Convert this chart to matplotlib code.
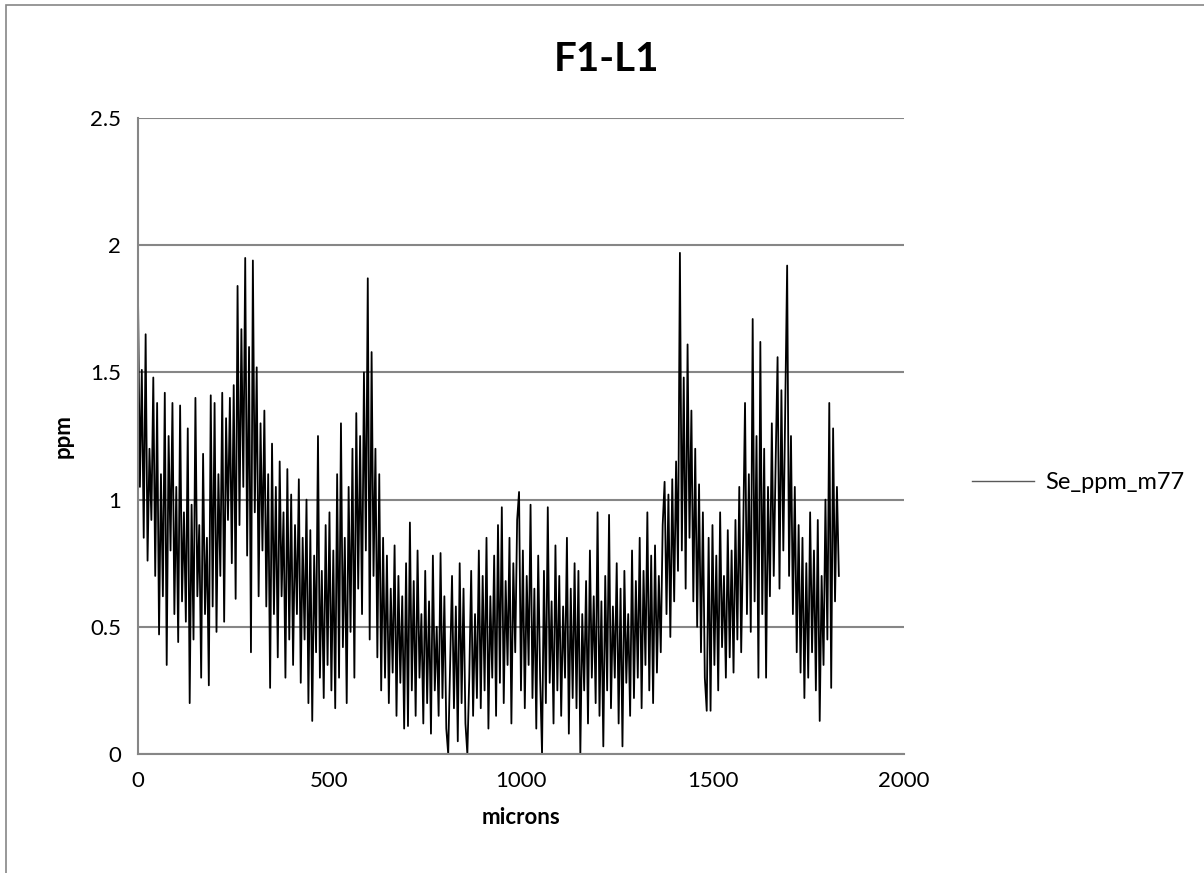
import matplotlib
matplotlib.use("Agg")
import matplotlib.pyplot as plt
from matplotlib.patches import Rectangle
import numpy as np

# Se line scan F1-L1, values every 5 microns
title = "F1-L1"
series_name = "Se_ppm_m77"
x_step = 5
se_ppm = [
    # 0 - 245
    1.81, 1.05, 1.51, 0.85, 1.65, 0.76, 1.20, 0.92, 1.48, 0.70,
    1.38, 0.47, 1.10, 0.62, 1.42, 0.35, 1.25, 0.80, 1.38, 0.55,
    1.05, 0.44, 1.37, 0.60, 0.95, 0.52, 1.28, 0.20, 0.98, 0.45,
    1.40, 0.62, 0.90, 0.30, 1.18, 0.55, 0.85, 0.27, 1.41, 0.58,
    1.38, 0.48, 1.10, 0.70, 1.42, 0.52, 1.32, 0.92, 1.40, 0.75,
    # 250 - 495
    1.45, 0.61, 1.84, 0.90, 1.67, 1.05, 1.95, 0.78, 1.60, 0.40,
    1.94, 0.95, 1.52, 0.62, 1.30, 0.80, 1.35, 0.58, 1.10, 0.26,
    1.22, 0.55, 1.05, 0.38, 1.15, 0.62, 0.95, 0.30, 1.12, 0.45,
    1.02, 0.35, 0.90, 0.55, 1.08, 0.28, 0.85, 0.45, 1.00, 0.20,
    0.88, 0.13, 0.78, 0.40, 1.25, 0.30, 0.72, 0.22, 0.90, 0.35,
    # 500 - 745
    0.95, 0.25, 0.80, 0.18, 1.10, 0.30, 1.30, 0.42, 0.85, 0.20,
    1.05, 0.48, 1.20, 0.30, 1.34, 0.65, 1.25, 0.55, 1.50, 0.80,
    1.87, 0.45, 1.58, 0.70, 1.20, 0.38, 1.10, 0.25, 0.85, 0.30,
    0.78, 0.20, 0.65, 0.32, 0.82, 0.15, 0.70, 0.28, 0.62, 0.10,
    0.75, 0.11, 0.91, 0.25, 0.68, 0.15, 0.80, 0.30, 0.55, 0.12,
    # 750 - 995
    0.72, 0.20, 0.60, 0.08, 0.78, 0.25, 0.50, 0.15, 0.79, 0.22,
    0.62, 0.10, 0.00, 0.35, 0.70, 0.18, 0.58, 0.05, 0.75, 0.20,
    0.65, 0.12, 0.00, 0.30, 0.72, 0.15, 0.55, 0.22, 0.80, 0.18,
    0.70, 0.25, 0.85, 0.10, 0.62, 0.30, 0.78, 0.15, 0.90, 0.28,
    0.97, 0.20, 0.68, 0.35, 0.85, 0.12, 0.75, 0.40, 0.92, 1.03,
    # 1000 - 1245
    0.25, 0.80, 0.18, 0.70, 0.35, 0.98, 0.22, 0.65, 0.10, 0.78,
    0.30, 0.00, 0.72, 0.20, 0.97, 0.28, 0.60, 0.12, 0.82, 0.25,
    0.70, 0.15, 0.58, 0.30, 0.85, 0.08, 0.65, 0.22, 0.75, 0.18,
    0.72, 0.00, 0.55, 0.25, 0.68, 0.12, 0.80, 0.30, 0.62, 0.20,
    0.95, 0.15, 0.60, 0.03, 0.70, 0.25, 0.94, 0.18, 0.58, 0.30,
    # 1250 - 1495
    0.75, 0.12, 0.65, 0.03, 0.72, 0.28, 0.55, 0.15, 0.80, 0.22,
    0.68, 0.30, 0.85, 0.18, 0.72, 0.35, 0.95, 0.25, 0.78, 0.20,
    0.82, 0.32, 0.70, 0.40, 0.90, 1.07, 0.55, 1.02, 0.46, 1.08,
    0.60, 1.15, 0.72, 1.97, 0.80, 1.48, 0.65, 1.61, 0.85, 1.35,
    0.60, 1.20, 0.50, 1.06, 0.40, 0.95, 0.30, 0.17, 0.85, 0.17,
    # 1500 - 1745
    0.90, 0.35, 0.78, 0.25, 0.95, 0.42, 0.70, 0.30, 0.88, 0.38,
    0.80, 0.32, 0.92, 0.45, 1.05, 0.40, 0.85, 1.38, 0.55, 1.10,
    0.48, 1.71, 0.60, 1.25, 0.30, 1.62, 0.55, 1.20, 0.30, 1.05,
    0.62, 1.30, 0.70, 1.15, 1.56, 0.65, 1.43, 0.80, 1.35, 1.92,
    0.70, 1.25, 0.55, 1.05, 0.40, 0.90, 0.32, 0.85, 0.22, 0.75,
    # 1750 - 1830
    0.30, 0.95, 0.40, 0.80, 0.25, 0.92, 0.13, 0.70, 0.35, 1.00,
    0.45, 1.38, 0.26, 1.28, 0.60, 1.05, 0.70,
]
microns = np.arange(len(se_ppm)) * x_step

y_ticks = [0, 0.5, 1, 1.5, 2, 2.5]
y_tick_labels = ["0", "0.5", "1", "1.5", "2", "2.5"]
x_ticks = [0, 500, 1000, 1500, 2000]

plt.rcParams["font.family"] = ["Lato", "DejaVu Sans"]
grid_grey = "#868686"

fig = plt.figure(figsize=(12.04, 8.73), dpi=100)
ax = fig.add_axes([0.1146, 0.1363, 0.6362, 0.7285])

ax.plot(microns, se_ppm, color="black", linewidth=1.3, label=series_name)

ax.set_xlim(0, 2000)
ax.set_ylim(0, 2.5)
ax.set_xticks(x_ticks)
ax.set_yticks(y_ticks)
ax.set_yticklabels(y_tick_labels)
ax.tick_params(length=0, labelsize=16, pad=12)
ax.yaxis.grid(True, color=grid_grey, linewidth=1.5)
ax.set_axisbelow(True)
for side in ["top", "right"]:
    ax.spines[side].set_visible(False)
for side in ["left", "bottom"]:
    ax.spines[side].set_color(grid_grey)
    ax.spines[side].set_linewidth(1.5)

ax.set_xlabel("microns", fontsize=16, fontweight="bold", labelpad=12)
ax.set_ylabel("ppm", fontsize=16, fontweight="bold", labelpad=12)
fig.text(0.504, 0.932, title, fontsize=29, fontweight="bold",
         ha="center", va="center")

leg = ax.legend(loc="center left", bbox_to_anchor=(0.79, 0.447),
                bbox_transform=fig.transFigure, frameon=False,
                fontsize=17, handlelength=2.6, handletextpad=0.5)
leg.get_lines()[0].set_linewidth(1.0)
leg.get_lines()[0].set_color("#595959")

# chart area border
fig.patches.append(Rectangle((6 / 1204, -0.01), 1.0, 1 - 5 / 873 + 0.01,
                             transform=fig.transFigure, fill=False,
                             edgecolor=grid_grey, linewidth=1.2))

fig.savefig("out.png", dpi=100)
